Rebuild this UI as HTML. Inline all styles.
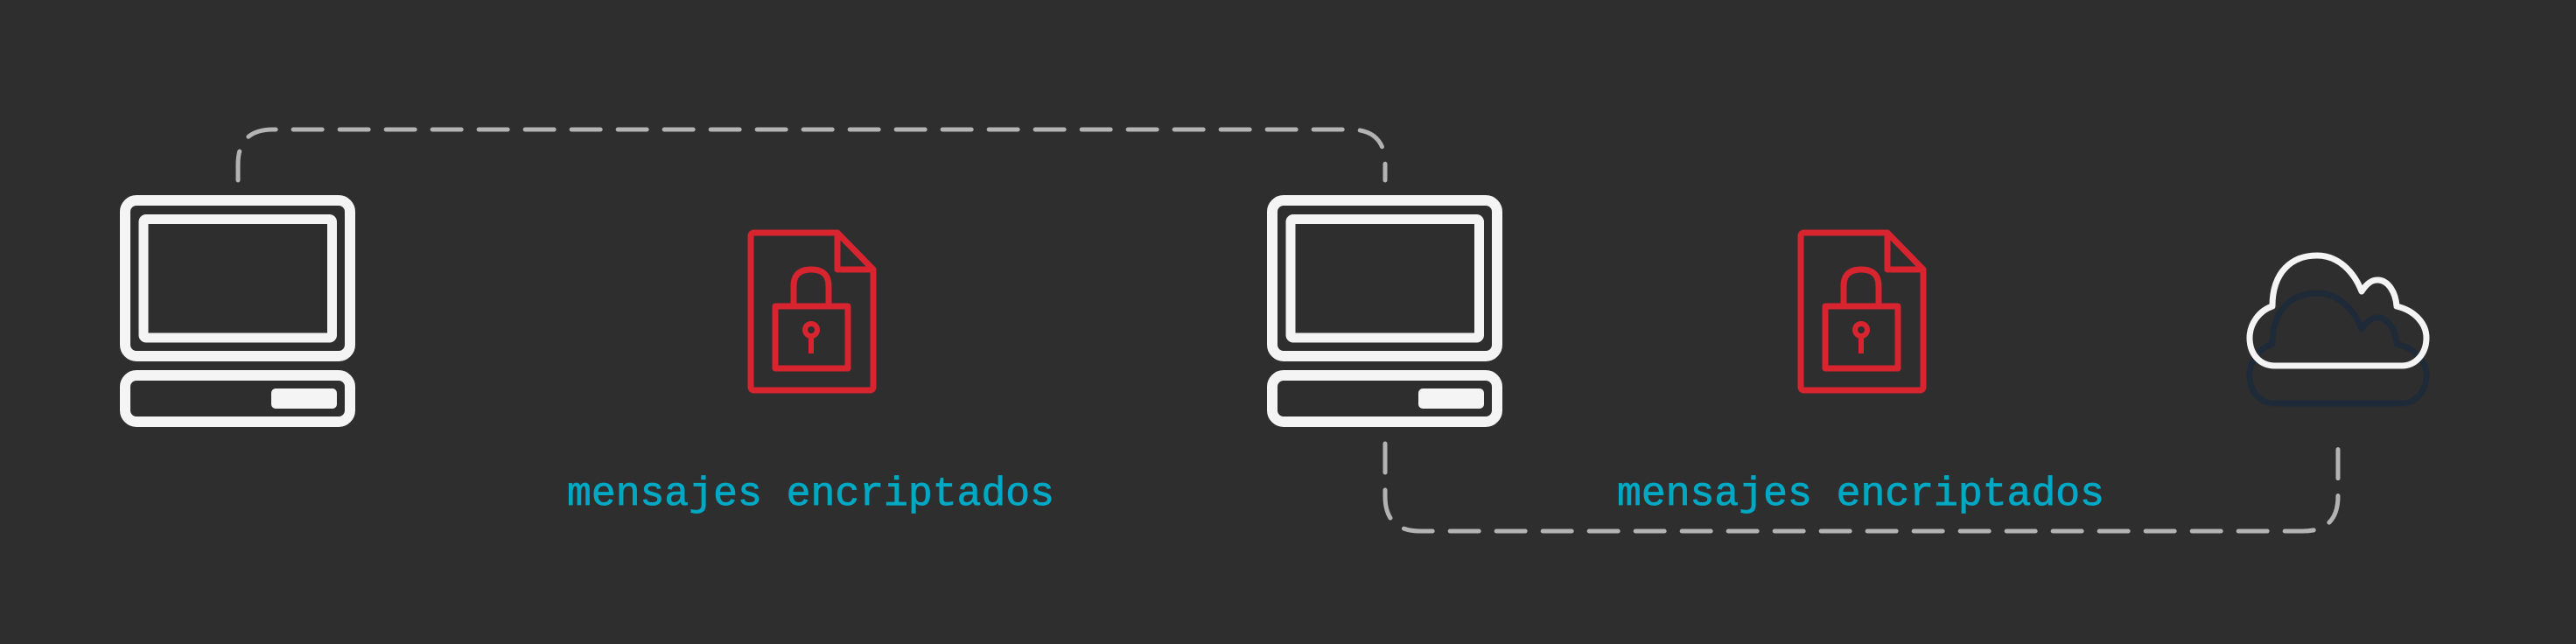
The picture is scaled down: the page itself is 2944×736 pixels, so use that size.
<!DOCTYPE html>
<html><head><meta charset="utf-8"><style>
html,body{margin:0;padding:0;background:#2e2e2e;}
svg{display:block;}
</style></head><body>
<svg width="2944" height="736" viewBox="0 0 2944 736" xmlns="http://www.w3.org/2000/svg">
<rect x="0" y="0" width="2944" height="736" rx="10" fill="#2e2e2e"/>
<g fill="none" stroke="#b3b3b3" stroke-width="5" stroke-linecap="round" stroke-dasharray="33 20">
<path d="M272,206 L272,188 Q272,148 312,148 L1543,148 Q1583,148 1583,188 L1583,206"/>
<path d="M1583,507 L1583,567 Q1583,607 1623,607 L2632,607 Q2672,607 2672,567 L2672,507"/>
</g>
<g id="pc" fill="none" stroke="#f4f4f4">
<rect x="143" y="229" width="257" height="178" rx="13" stroke-width="12"/>
<rect x="164" y="250.5" width="215.5" height="135.5" rx="3" stroke-width="11"/>
<rect x="143" y="429" width="257" height="53" rx="13" stroke-width="12"/>
<rect x="310" y="444" width="75" height="23" rx="5" fill="#f4f4f4" stroke="none"/>
</g>
<use href="#pc" transform="translate(1311,0)"/>
<g id="doc" fill="none" stroke="#d7242f" stroke-width="7" stroke-linejoin="round">
<path d="M862,266 L957,266 L998,308 L998,442 Q998,446 994,446 L862,446 Q858,446 858,442 L858,270 Q858,266 862,266 Z"/>
<path d="M957,266 L957,308 L998,308"/>
<rect x="886" y="350" width="83" height="71" stroke-width="7"/>
<path d="M907,350 L907,327 Q907,308 927,308 Q947,308 947,327 L947,350"/>
<circle cx="927" cy="377" r="7" stroke-width="6"/>
<path d="M927,384 L927,404" stroke-width="6"/>
</g>
<use href="#doc" transform="translate(1200,0)"/>
<g font-family="Liberation Mono, monospace" font-size="46" fill="#00a8c3" stroke="#00a8c3" stroke-width="0.8">
<text x="648" y="577" textLength="557" lengthAdjust="spacingAndGlyphs">mensajes encriptados</text>
<text x="1848" y="577" textLength="557" lengthAdjust="spacingAndGlyphs">mensajes encriptados</text>
</g>
<path transform="translate(0,43)" d="M2597,350 C2597,310 2620,292 2648,292 C2672,292 2690,310 2699,333 C2706,322 2712,320 2717,320 C2730,320 2738,335 2739,350 C2760,355 2773,370 2773,386 C2773,405 2760,418 2745,418 L2600,418 C2583,418 2571,405 2571,386 C2571,370 2582,355 2597,350 Z" fill="none" stroke="#1f2a38" stroke-width="7" stroke-linejoin="round"/>
<path d="M2597,350 C2597,310 2620,292 2648,292 C2672,292 2690,310 2699,333 C2706,322 2712,320 2717,320 C2730,320 2738,335 2739,350 C2760,355 2773,370 2773,386 C2773,405 2760,418 2745,418 L2600,418 C2583,418 2571,405 2571,386 C2571,370 2582,355 2597,350 Z" fill="none" stroke="#f4f4f4" stroke-width="7" stroke-linejoin="round"/>
</svg>
</body></html>
